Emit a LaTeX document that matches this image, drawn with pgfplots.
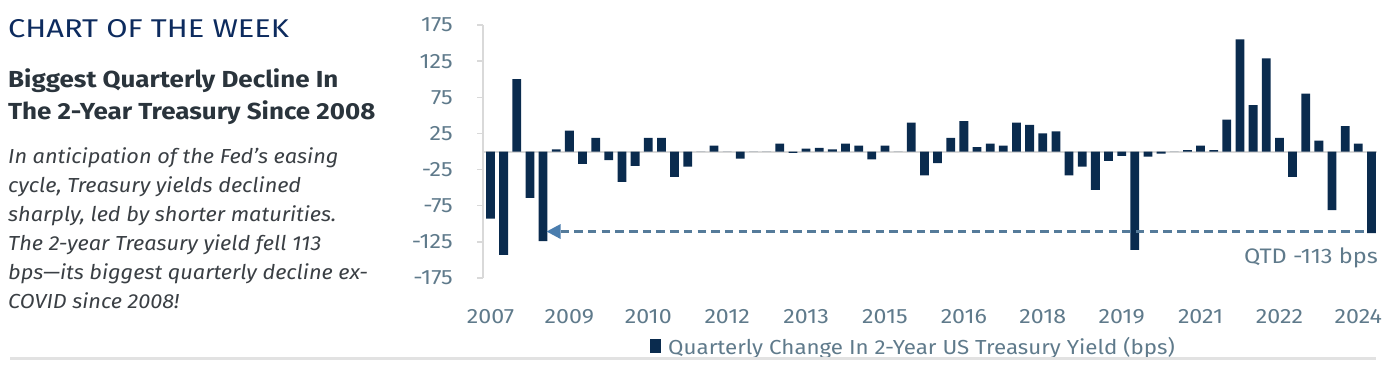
\documentclass[border=0pt]{standalone}
\usepackage{fontspec}
\setmainfont{Fira Sans}
\newfontfamily\titlefont[FakeStretch=1.2]{Fira Sans}
\newfontfamily\headfont[FakeStretch=1.12]{Fira Sans}
\newfontfamily\bodyfont[FakeStretch=1.07]{Fira Sans}
\newfontfamily\tickfont[FakeStretch=1.12]{Fira Sans}
\newfontfamily\legfont[FakeStretch=1.1]{Fira Sans}
\usepackage{pgfplots}
\pgfplotsset{compat=1.18}
\definecolor{navy}{HTML}{0A2B4E}
\definecolor{ticktxt}{HTML}{5F7A8B}
\definecolor{axgray}{HTML}{D9D9D9}
\definecolor{dashc}{HTML}{557B9A}
\definecolor{arrowc}{HTML}{4A7DAE}
\definecolor{titlec}{HTML}{0D2B5E}
\definecolor{headc}{HTML}{2A343C}
\definecolor{bodyc}{HTML}{3A3F44}
\definecolor{botline}{HTML}{E2E2E2}

\pgfplotstableread{
x y
0 -93
1 -143
2 100
3 -64
4 -124
5 3
6 29
7 -17
8 19
9 -12
10 -42
11 -20
12 19
13 19
14 -35
15 -21
16 0
17 8
18 0
19 -10
20 0
21 0
22 11
23 -2
24 4
25 5
26 3
27 11
28 8
29 -11
30 8
31 0
32 40
33 -33
34 -16
35 19
36 42
37 6
38 11
39 8
40 40
41 37
42 25
43 28
44 -33
45 -21
46 -53
47 -13
48 -6
49 -136
50 -7
51 -3
52 0
53 2
54 8
55 2
56 44
57 155
58 64
59 129
60 19
61 -35
62 80
63 15
64 -81
65 35
66 11
67 -113
}\datatable

\begin{document}
\begin{tikzpicture}
\path[use as bounding box] (0pt,0pt) rectangle (1398pt,-366pt);

% left text panel
\node[anchor=base west, inner sep=0pt, text=titlec, font=\titlefont\fontsize{25.7}{30}\selectfont] at (8pt,-37.7pt) {CHART OF THE WEEK};
\node[anchor=base west, inner sep=0pt, text=headc, font=\headfont\fontsize{23.2}{28}\selectfont\bfseries] at (8pt,-87.7pt) {Biggest Quarterly Decline In};
\node[anchor=base west, inner sep=0pt, text=headc, font=\headfont\fontsize{23.2}{28}\selectfont\bfseries] at (8pt,-120pt) {The 2-Year Treasury Since 2008};
\foreach \yy/\txt in {164/{In anticipation of the Fed’s easing},193/{cycle, Treasury yields declined},222/{sharply, led by shorter maturities.},251/{The 2-year Treasury yield fell 113},279.5/{bps—its biggest quarterly decline ex-},308/{COVID since 2008!}}{
  \node[anchor=base west, inner sep=0pt, text=bodyc, font=\bodyfont\fontsize{20.3}{24}\selectfont\itshape] at (8pt,-\yy pt) {\txt};
}

\begin{axis}[
  at={(483pt,-278pt)}, anchor=south west,
  scale only axis, width=894pt, height=253pt,
  xmin=-0.57, xmax=67.42, ymin=-175, ymax=175,
  axis x line*=bottom, axis y line*=left,
  axis line style={-},
  x axis line style={draw=none},
  y axis line style={draw=axgray, line width=1.3pt},
  xtick={0,6,...,66},
  xticklabels={2007,2009,2010,2012,2013,2015,2016,2018,2019,2021,2022,2024},
  ytick={-175,-125,-75,-25,25,75,125,175},
  yticklabels={-175,-125,-75,-25,25,75,125,175},
  xtick style={draw=none},
  ytick style={draw=axgray, line width=1.3pt},
  tick align=outside, major tick length=6pt,
  tick label style={font=\tickfont\fontsize{20.7}{24}\selectfont, text=ticktxt, inner sep=0pt},
  xticklabel style={anchor=base, yshift=-39.7pt},
  yticklabel style={anchor=east, xshift=-24pt},
  clip=false,
]
\draw[axgray, line width=2pt] (axis cs:-0.57,0) -- (axis cs:67.42,0);
\addplot[ybar, bar width=8.8pt, bar shift=0pt, fill=navy, draw=none] table[x=x,y=y] {\datatable};
\draw[dashc, line width=2.3pt, dash pattern=on 8.5pt off 5.2pt] (axis cs:5.33,-110.7) -- (axis cs:66.6,-110.7);
\fill[arrowc] (axis cs:4.27,-110.7) -- (axis cs:5.335,-100.3) -- (axis cs:5.335,-121.1) -- cycle;
\end{axis}

\node[anchor=base east, inner sep=0pt, text=ticktxt, font=\tickfont\fontsize{21}{24}\selectfont] at (1378pt,-264pt) {QTD -113 bps};

% legend
\fill[navy] (650pt,-339.3pt) rectangle (660.7pt,-353.3pt);
\node[anchor=base west, inner sep=0pt, text=ticktxt, font=\legfont\fontsize{20.3}{24}\selectfont] at (668pt,-354pt) {Quarterly Change In 2-Year US Treasury Yield (bps)};

% bottom rule
\draw[botline, line width=3pt] (10pt,-358.7pt) -- (1376pt,-358.7pt);
\end{tikzpicture}
\end{document}
